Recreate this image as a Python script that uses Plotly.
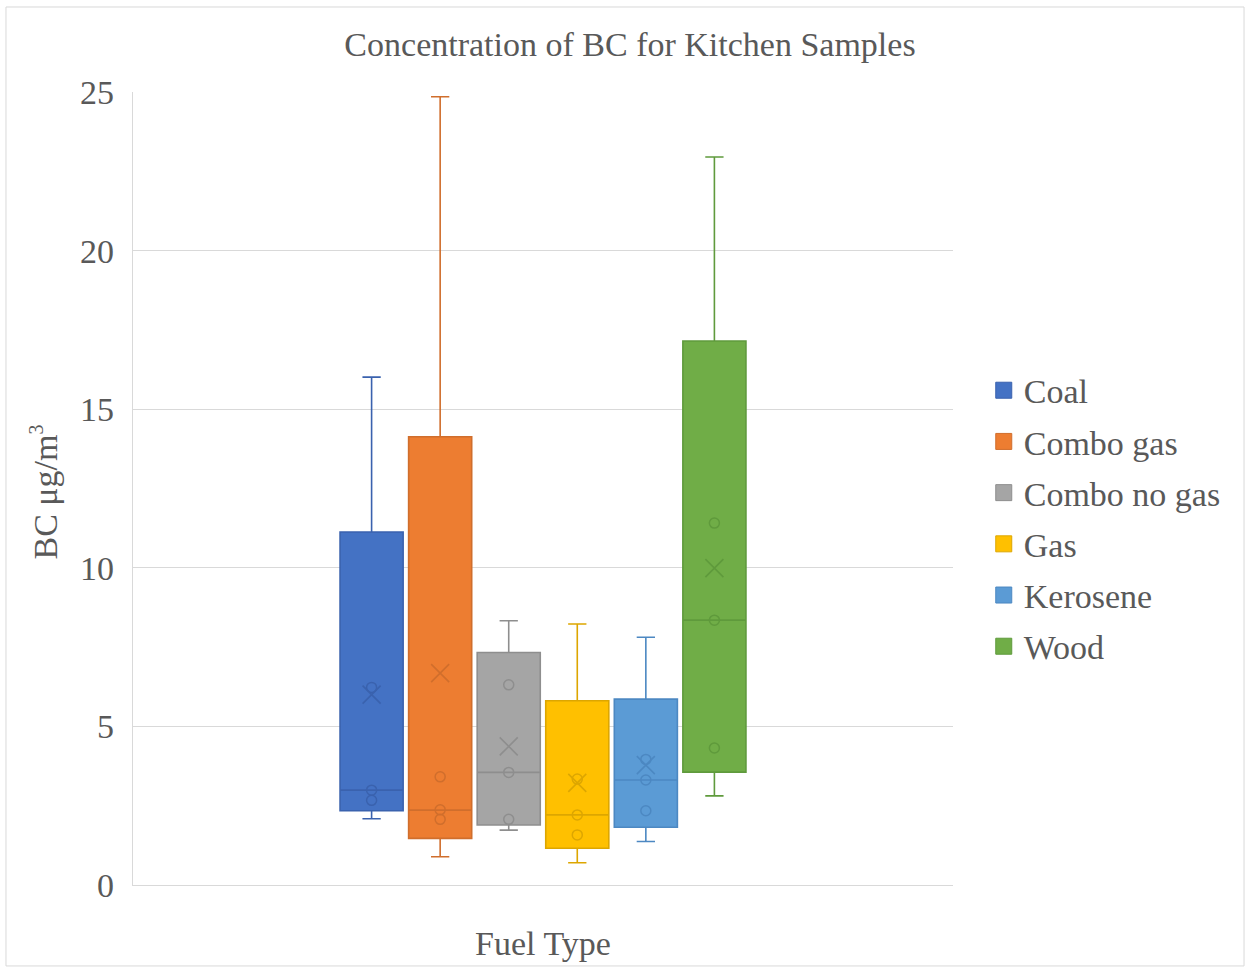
import plotly.graph_objects as go

# ---- data ----
fuels = ["Coal", "Combo gas", "Combo no gas", "Gas", "Kerosene", "Wood"]
q1 = [2.34, 1.47, 1.89, 1.16, 1.82, 3.56]
median = [2.99, 2.36, 3.55, 2.21, 3.31, 8.35]
q3 = [11.13, 14.13, 7.33, 5.81, 5.86, 17.15]
lower = [2.09, 0.89, 1.73, 0.70, 1.37, 2.81]
upper = [16.01, 24.85, 8.33, 8.23, 7.81, 22.95]
means = [6.0, 6.68, 4.37, 3.22, 3.78, 9.99]
points = [
    [6.23, 2.99, 2.67],
    [3.41, 2.37, 2.07],
    [6.31, 3.55, 2.07],
    [3.34, 2.21, 1.58],
    [3.96, 3.31, 2.34],
    [11.41, 8.35, 4.32],
]
fill_colors = ["#4472C4", "#ED7D31", "#A5A5A5", "#FFC000", "#5B9BD5", "#70AD47"]
line_colors = ["#3A62AE", "#D06E2C", "#8E8E8E", "#DDA600", "#4C88C2", "#5F9A3C"]

title_text = "Concentration of BC for Kitchen Samples"
x_title = "Fuel Type"
y_title = "BC μg/m<sup><span style='font-size:20px'>3</span></sup>"
y_ticks = [0, 5, 10, 15, 20, 25]

FONT = "Liberation Serif"
GREY = "#595959"
FS = 34

fig = go.Figure()
for i, f in enumerate(fuels):
    fig.add_trace(go.Box(
        name=f, x=[f], q1=[q1[i]], median=[median[i]], q3=[q3[i]],
        lowerfence=[lower[i]], upperfence=[upper[i]],
        fillcolor=fill_colors[i], line=dict(color=line_colors[i], width=1.6),
        whiskerwidth=0.29, boxpoints=False, legendgroup=f, showlegend=False,
        hoverinfo="skip",
    ))
    fig.add_trace(go.Scatter(
        x=[f] * len(points[i]), y=points[i], mode="markers",
        marker=dict(symbol="circle-open", size=10, color=line_colors[i],
                    line=dict(width=1.5, color=line_colors[i])),
        legendgroup=f, showlegend=False, hoverinfo="skip",
    ))
    fig.add_trace(go.Scatter(
        x=[f], y=[means[i]], mode="markers",
        marker=dict(symbol="x-thin-open", size=18, color=line_colors[i],
                    line=dict(width=1.6, color=line_colors[i])),
        legendgroup=f, showlegend=False, hoverinfo="skip",
    ))
    # legend entry (square swatch like the reference)
    fig.add_trace(go.Scatter(
        x=[None], y=[None], mode="markers", name=f,
        marker=dict(symbol="square", size=16, color=fill_colors[i],
                    line=dict(width=1, color=line_colors[i])),
        legendgroup=f, showlegend=True, hoverinfo="skip",
    ))

fig.update_layout(
    width=1250, height=972,
    margin=dict(l=133, r=297, t=92, b=87),
    paper_bgcolor="white", plot_bgcolor="white",
    font=dict(family=FONT, color=GREY, size=FS),
    title=dict(text=title_text, x=0.504, xanchor="center", y=0.955, yanchor="middle",
               font=dict(family=FONT, size=FS, color=GREY)),
    boxgap=0.08, boxgroupgap=0, boxmode="overlay",
    showlegend=True,
    legend=dict(x=1.0375, xanchor="left", y=0.462, yanchor="middle",
                font=dict(family=FONT, size=FS, color=GREY),
                tracegroupgap=4, itemwidth=30, bgcolor="rgba(0,0,0,0)"),
    shapes=[dict(type="rect", xref="paper", yref="paper",
                 x0=-0.1549, x1=1.3549, y0=-0.1021, y1=1.1072,
                 line=dict(color="#D9D9D9", width=1), fillcolor="rgba(0,0,0,0)", layer="below")],
    annotations=[dict(text=y_title, xref="paper", yref="paper", x=-0.1085, y=0.495,
                      xanchor="center", yanchor="middle", textangle=-90, showarrow=False,
                      font=dict(family=FONT, size=FS, color=GREY))],
)
fig.update_xaxes(
    type="category", categoryorder="array", categoryarray=fuels,
    range=[-3.48, 8.48], showticklabels=False, ticks="",
    showgrid=False, showline=True, linecolor="#D9D9D9", linewidth=1.3,
    zeroline=False,
    title=dict(text=x_title, font=dict(family=FONT, size=FS, color=GREY), standoff=46),
)
fig.update_yaxes(
    range=[0, 25], tickvals=y_ticks, showgrid=True, gridcolor="#D9D9D9", gridwidth=1.3,
    showline=True, linecolor="#D9D9D9", linewidth=1.3, zeroline=False,
    ticks="outside", ticklen=11, tickcolor="rgba(0,0,0,0)",
    tickfont=dict(family=FONT, size=FS, color=GREY),
)

fig.write_html("out.html", config={"displayModeBar": False},
               post_script="document.body.style.margin='0';")
